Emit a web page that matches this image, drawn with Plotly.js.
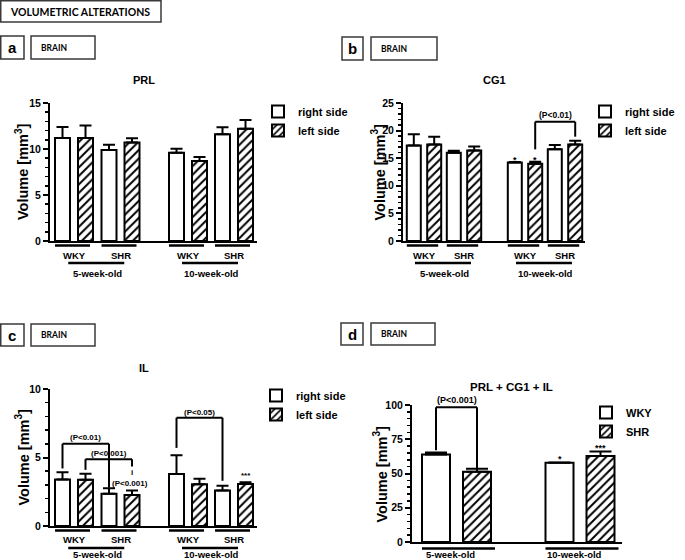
<!DOCTYPE html>
<html><head><meta charset="utf-8">
<script src="https://cdn.plot.ly/plotly-3.0.1.min.js"></script>
<style>html,body{margin:0;padding:0;background:#fff}#chart{width:685px;height:560px}</style>
</head><body><div id="chart"></div>
<script>
// ================= DATA =================
const groups = ['WKY', 'SHR'];
const ages = ['5-week-old', '10-week-old'];
const sides = ['right side', 'left side'];
const strains = ['WKY', 'SHR'];
// order of values: [WKY 5wk, SHR 5wk, WKY 10wk, SHR 10wk]
const prlRight    = [11.2, 9.9, 9.6, 11.6];
const prlRightErr = [1.2, 0.55, 0.44, 0.77];
const prlLeft     = [11.2, 10.7, 8.7, 12.2];
const prlLeftErr  = [1.35, 0.48, 0.43, 0.95];

const cg1Right    = [17.3, 16.0, 14.2, 16.6];
const cg1RightErr = [2.05, 0.36, 0.12, 0.79];
const cg1Left     = [17.5, 16.4, 14.0, 17.5];
const cg1LeftErr  = [1.4, 0.73, 0.36, 0.67];

const ilRight     = [3.4, 2.35, 3.8, 2.6];
const ilRightErr  = [0.52, 0.41, 1.37, 0.34];
const ilLeft      = [3.37, 2.27, 3.05, 3.07];
const ilLeftErr   = [0.44, 0.32, 0.39, 0.13];

// PRL + CG1 + IL, order [5wk, 10wk]
const totWKY    = [63.9, 57.8];
const totWKYErr = [1.5, 0.3];
const totSHR    = [51.2, 62.7];
const totSHRErr = [2.2, 3.4];

// ================= LAYOUT HELPERS =================
const W = 685, H = 560;
const FONT = 'Liberation Sans, Arial, Helvetica, sans-serif';
const px2x = p => p / W;
const px2y = p => 1 - p / H;

const panels = [
  {key:'a', y:'y',  xs:['x','x2'], vals:[prlRight, prlRightErr, prlLeft, prlLeftErr],
   top:103, bottom:241, ymax:15, dtick:5, minor:1,
   subs:[{dom:[50,154], c0:74, unit:46.5}, {dom:[154,257], c0:188, unit:46}],
   barW:15, barOff:11.5, legend:'legend', grpY:255.5, ageY:273.5},
  {key:'b', y:'y2', xs:['x3','x4'], vals:[cg1Right, cg1RightErr, cg1Left, cg1LeftErr],
   top:103, bottom:241, ymax:25, dtick:5, minor:1,
   subs:[{dom:[403,494], c0:424, unit:40}, {dom:[494,585], c0:525, unit:40}],
   barW:14, barOff:10.2, legend:'legend2', grpY:255.5, ageY:273.5},
  {key:'c', y:'y3', xs:['x5','x6'], vals:[ilRight, ilRightErr, ilLeft, ilLeftErr],
   top:389, bottom:526, ymax:10, dtick:5, minor:1,
   subs:[{dom:[50,154], c0:74, unit:46.5}, {dom:[154,257], c0:188, unit:46}],
   barW:15, barOff:11.5, legend:'legend3', grpY:539.5, ageY:554}
];
const pd = {y:'y4', x:'x7', top:405, bottom:542, ymax:100, dtick:25, minor:5,
            sub:{dom:[412,621.7], c0:456.5, unit:123.5}, barW:28, barOff:20.5, legend:'legend4', ageY:554.5};

const axKey = (id, letter) => letter + 'axis' + id.slice(1);
const rangeOf = s => [(s.dom[0]-s.c0)/s.unit, (s.dom[1]-s.c0)/s.unit];

const traces = [];
const layout = {
  width: W, height: H, margin:{l:0,r:0,t:0,b:0},
  paper_bgcolor:'white', plot_bgcolor:'white',
  barmode:'overlay', showlegend:true,
  font:{family:FONT, color:'black'},
  shapes:[], annotations:[]
};

function xAxisDef(s, yId) {
  return {
    type:'category', domain:[px2x(s.dom[0]), px2x(s.dom[1])], range:rangeOf(s),
    anchor:yId, showline:true, linewidth:2, linecolor:'black', ticks:'',
    showticklabels:false, showgrid:false, zeroline:false, fixedrange:true
  };
}
function yAxisDef(p, xId) {
  return {
    domain:[px2y(p.bottom), px2y(p.top)], range:[0,p.ymax], anchor:xId,
    tick0:0, dtick:p.dtick, ticks:'outside', ticklen:5, tickwidth:2, tickcolor:'black',
    showline:true, linewidth:2, linecolor:'black', showgrid:false, zeroline:false, fixedrange:true,
    tickfont:{family:FONT, size:10.5, color:'black', weight:'bold'},
    minor:{dtick:p.minor, tick0:0, ticks:'outside', ticklen:3, tickwidth:1.5, tickcolor:'black', showgrid:false}
  };
}
const hatch = {shape:'/', fgcolor:'black', bgcolor:'white', size:6, solidity:0.33};
function barTrace(xId, yId, xs, ys, errs, name, hatched, off, wid, legend, showlegend, capW) {
  return {
    type:'bar', x:xs, y:ys, xaxis:xId, yaxis:yId, name:name, legend:legend, showlegend:showlegend,
    legendgroup:legend+name, offset:off, width:wid,
    marker:{color:'white', line:{color:'black', width:2}, pattern: hatched ? hatch : {shape:''}},
    error_y:{type:'data', symmetric:false, array:errs, arrayminus:errs.map(()=>0),
             color:'black', thickness:2, width:capW},
    hoverinfo:'skip'
  };
}
function hline(xref, yref, x0, x1, y0, y1, w) {
  layout.shapes.push({type:'line', xref, yref, x0, x1, y0, y1, line:{color:'black', width:w}});
}
function bracket(xref, yref, xL, xR, yTop, yL, yR) {
  hline(xref, yref, xL, xL, yL, yTop, 2);
  hline(xref, yref, xL, xR, yTop, yTop, 2);
  hline(xref, yref, xR, xR, yTop, yR, 2);
}
function note(text, xref, yref, x, y, size, opts) {
  layout.annotations.push(Object.assign({text, xref, yref, x, y, showarrow:false,
    xanchor:'center', yanchor:'middle', font:{family:FONT, size:size, color:'black'}}, opts||{}));
}

// ================= PANELS a, b, c =================
panels.forEach(p => {
  const yId = p.y;
  layout[axKey(yId,'y')] = yAxisDef(p, p.xs[0]);
  const [rV, rE, lV, lE] = p.vals;
  p.subs.forEach((s, k) => {
    const xId = p.xs[k];
    layout[axKey(xId,'x')] = xAxisDef(s, yId);
    const wid = p.barW / s.unit;
    const offR = -(p.barOff + p.barW/2) / s.unit;
    const offL = (p.barOff - p.barW/2) / s.unit;
    traces.push(barTrace(xId, yId, groups, rV.slice(2*k, 2*k+2), rE.slice(2*k, 2*k+2), sides[0], false, offR, wid, p.legend, k===0, 6));
    traces.push(barTrace(xId, yId, groups, lV.slice(2*k, 2*k+2), lE.slice(2*k, 2*k+2), sides[1], true, offL, wid, p.legend, k===0, 6));
    // group underlines, group labels and age labels
    const yLine1 = p.bottom + 4.5, yLine2 = p.bottom + 22;
    const left = -(p.barOff + p.barW/2) / s.unit, right = (p.barOff + p.barW/2 - 3) / s.unit;
    groups.forEach((gName, g) => {
      hline(xId, 'paper', g + left, g + right, px2y(yLine1), px2y(yLine1), 2.5);
      note('<b>' + gName + '</b>', xId, 'paper', g, px2y(p.grpY), 9.5);
    });
    hline(xId, 'paper', 0.5 - 29/s.unit, 0.5 + 27/s.unit, px2y(yLine2), px2y(yLine2), 2.5);
    note('<b>' + ages[k] + '</b>', xId, 'paper', 0.5, px2y(p.ageY), 9.5);
  });
});

// ================= PANEL d =================
(function(){
  layout[axKey(pd.y,'y')] = yAxisDef(pd, pd.x);
  const s = pd.sub;
  layout[axKey(pd.x,'x')] = xAxisDef(s, pd.y);
  const wid = pd.barW / s.unit;
  traces.push(barTrace(pd.x, pd.y, ages, totWKY, totWKYErr, strains[0], false, -(pd.barOff + pd.barW/2)/s.unit, wid, pd.legend, true, 11));
  traces.push(barTrace(pd.x, pd.y, ages, totSHR, totSHRErr, strains[1], true, (pd.barOff - pd.barW/2)/s.unit, wid, pd.legend, true, 11));
  const yLine = pd.bottom + 6.5;
  ages.forEach((aName, g) => {
    hline(pd.x, 'paper', g - (pd.barOff + pd.barW/2)/s.unit, g + (pd.barOff + pd.barW/2 + 4)/s.unit, px2y(yLine), px2y(yLine), 2.5);
    note('<b>' + aName + '</b>', pd.x, 'paper', g - 6/s.unit, px2y(pd.ageY), 9.5);
  });
})();

// ================= LEGENDS =================
const legFont = {family:FONT, size:11, color:'black', weight:'bold'};
const legBase = {xanchor:'left', yanchor:'top', font:legFont, bgcolor:'rgba(0,0,0,0)', itemwidth:30, tracegroupgap:0, itemclick:false, itemdoubleclick:false};
layout.legend  = Object.assign({x:px2x(258), y:px2y(97)}, legBase);
layout.legend2 = Object.assign({x:px2x(585), y:px2y(97)}, legBase);
layout.legend3 = Object.assign({x:px2x(256), y:px2y(381)}, legBase);
layout.legend4 = Object.assign({x:px2x(586), y:px2y(398)}, legBase);

// ================= BRACKETS, STARS, P-VALUES =================
// panel b (10-week axis x4)
{
  const u = 40, o = 10.2/u;
  bracket('x4','y2', 0+o, 1+o, 21.6, 16.6, 18.9);
  note('<b>(P<0.01)</b>', 'x4','y2', 0.5+o, 22.8, 8.5);
  note('<b>*</b>', 'x4','y2', 0-o, 14.7, 9);
  note('<b>*</b>', 'x4','y2', 0+o, 14.7, 9);
}
// panel c
{
  const u = 46.5, o = 11.5/u;
  bracket('x5','y3', 0-o, 1-o, 6.0, 4.2, 2.8);
  note('<b>(P<0.01)</b>', 'x5','y3', 0.5-o, 6.45, 8);
  bracket('x5','y3', 0+o, 1+o, 4.88, 4.1, 4.35);
  note('<b>(P<0.001)</b>', 'x5','y3', 0.5+o, 5.26, 8);
  note('<b>i</b>', 'x5','y3', 1+o, 3.87, 8);
  note('<b>(P<0.001)</b>', 'x5','y3', 1+o-0.05, 3.07, 8);
  const u2 = 46, o2 = 11.5/u2;
  bracket('x6','y3', 0-o2, 1-o2, 7.9, 5.7, 3.3);
  note('<b>(P<0.05)</b>', 'x6','y3', 0.5-o2, 8.3, 8);
  note('<b>***</b>', 'x6','y3', 1+o2, 3.72, 8);
}
// panel d
{
  const u = 123.5, o = 20.5/u;
  bracket('x7','y4', 0-o, 0+o, 98.3, 67, 54);
  note('<b>(P<0.001)</b>', 'x7','paper', 0, px2y(400), 9);
  note('<b>*</b>', 'x7','y4', 1-o, 60.8, 9);
  note('<b>***</b>', 'x7','y4', 1+o, 68.6, 9);
}

// ================= TITLES =================
note('<b>PRL</b>', 'paper','paper', px2x(144), px2y(80), 11);
note('<b>CG1</b>', 'paper','paper', px2x(494), px2y(80), 11);
note('<b>IL</b>', 'paper','paper', px2x(144), px2y(368), 11);
note('<b>PRL + CG1 + IL</b>', 'paper','paper', px2x(511.5), px2y(387), 11.5);
const yTitle = '<b>Volume [mm<sup>3</sup>]</b>';
[[22,172],[378.5,172],[22,457.5],[380.5,474]].forEach(([x,y]) =>
  note(yTitle, 'paper','paper', px2x(x), px2y(y), 14.5, {textangle:-90}));

// ================= HEADER BOXES =================
function box(x0,y0,x1,y1){
  layout.shapes.push({type:'rect', xref:'paper', yref:'paper', x0:px2x(x0), x1:px2x(x1), y0:px2y(y0), y1:px2y(y1),
    line:{color:'#3a3a3a', width:1.5}, fillcolor:'rgba(0,0,0,0)'});
}
const HFONT = 'Lato, Liberation Sans, sans-serif';
box(0.75,0.75,161,22);
note('<b>VOLUMETRIC ALTERATIONS</b>', 'paper','paper', px2x(8), px2y(11.5), 10.5, {xanchor:'left', font:{family:HFONT, size:10.5, color:'black'}});
[['a',0.75,36,24,59,31,95],['b',342,37,363,60,371,437],['c',0.75,324,24,346,31,95],['d',341,323,363,345,371,435]].forEach(([l,x0,y0,x1,y1,bx0,bx1]) => {
  box(x0,y0,x1,y1);
  box(bx0,y0,bx1,y1);
  note('<b>'+l+'</b>', 'paper','paper', px2x((x0+x1)/2), px2y((y0+y1)/2), 15);
  note('<b>BRAIN</b>', 'paper','paper', px2x(bx0+8), px2y((y0+y1)/2), 8.5, {xanchor:'left', font:{family:HFONT, size:8.5, color:'black'}});
});

Plotly.newPlot('chart', traces, layout, {displayModeBar:false, staticPlot:true});
</script>
</body></html>
